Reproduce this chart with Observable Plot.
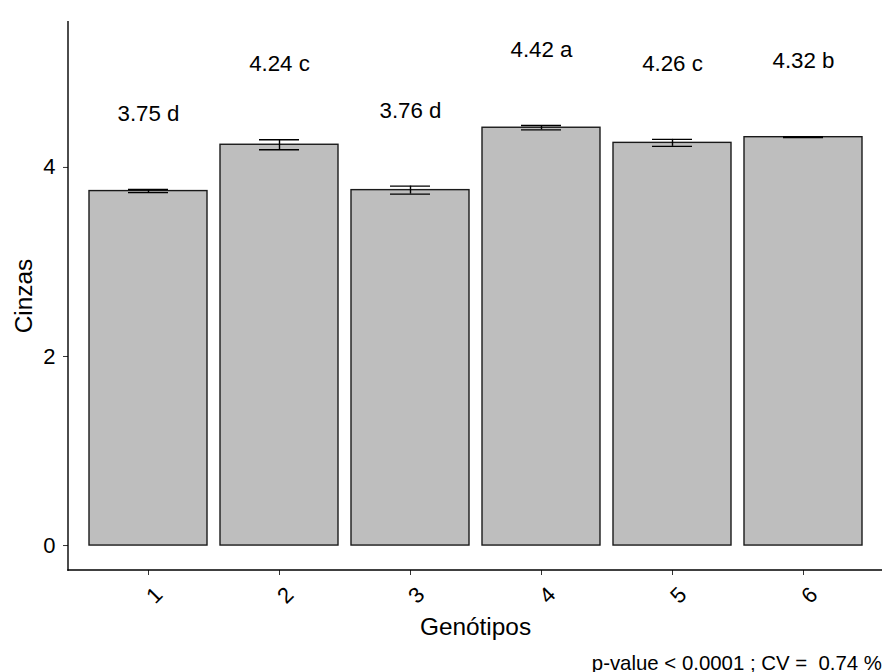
<!DOCTYPE html>
<html>
<head>
<meta charset="utf-8">
<script src="https://cdn.jsdelivr.net/npm/d3@7"></script>
<script src="https://cdn.jsdelivr.net/npm/@observablehq/plot@0.6"></script>
<style>
  html, body { margin: 0; padding: 0; background: #fff; overflow: hidden; }
  #chart { width: 882px; height: 648px; }
  #caption { width: 882px; height: 24px; font: 20.4px "Liberation Sans", Arial, sans-serif; color: #000; text-align: right; line-height: 24px; box-sizing: border-box; padding-top: 2.5px; padding-right: 0; white-space: nowrap; overflow: hidden; }
</style>
</head>
<body>
<div id="chart"></div>
<div id="caption">p-value &lt; 0.0001 ; CV =&nbsp; 0.74 %</div>
<script>
const genotipos = ["1", "2", "3", "4", "5", "6"];
const medias = [3.75, 4.24, 3.76, 4.42, 4.26, 4.32];
const desvios = [0.016, 0.053, 0.042, 0.023, 0.037, 0.005];
const letras = ["d", "c", "d", "a", "c", "b"];
const yTicks = [0, 2, 4];

const data = genotipos.map((g, i) => ({
  g, m: medias[i], sd: desvios[i],
  label: medias[i].toFixed(2) + " " + letras[i]
}));

const labelOffset = 0.8;
const font = '"Liberation Sans", Arial, sans-serif';

const axisLines = (index, scales, values, dims) => {
  const g = d3.create("svg:g").attr("stroke", "#000").attr("stroke-width", 1.4).attr("fill", "none");
  const x0 = dims.marginLeft, y1 = dims.height - dims.marginBottom;
  g.append("line").attr("x1", x0).attr("x2", x0).attr("y1", dims.marginTop).attr("y2", y1 + 0.7);
  g.append("line").attr("x1", x0 - 0.7).attr("x2", dims.width - dims.marginRight).attr("y1", y1).attr("y2", y1);
  return g.node();
};

const plot = Plot.plot({
  width: 882,
  height: 648,
  marginTop: 21,
  marginLeft: 68,
  marginRight: 0,
  marginBottom: 78,
  style: { fontFamily: font, background: "#fff" },
  x: { domain: genotipos, paddingInner: 0.1, paddingOuter: 0.14, label: null },
  y: { domain: [-0.264, 5.544], label: null },
  marks: [
    Plot.barY(data, { x: "g", y: "m", fill: "#BEBEBE", stroke: "#1a1a1a", strokeWidth: 1.4 }),
    Plot.ruleX(data, { x: "g", y1: d => d.m - d.sd, y2: d => d.m + d.sd, stroke: "#000", strokeWidth: 1.4 }),
    Plot.tickY(data, { x: "g", y: d => d.m - d.sd, stroke: "#000", strokeWidth: 1.4, inset: 39 }),
    Plot.tickY(data, { x: "g", y: d => d.m + d.sd, stroke: "#000", strokeWidth: 1.4, inset: 39 }),
    Plot.text(data, { x: "g", y: d => d.m + d.sd + labelOffset, text: "label", fontSize: 22.3, fill: "#000" }),
    Plot.axisY({ ticks: yTicks, tickSize: 5, tickPadding: 8, fontSize: 22, color: "#000", stroke: "#333", label: null, tickFormat: d => String(d) }),
    Plot.axisX({ tickSize: 5, stroke: "#333", label: null, tickFormat: () => "" }),
    Plot.text(genotipos, { x: d => d, frameAnchor: "bottom", dy: 25, dx: 6, rotate: -45, textAnchor: "middle", lineAnchor: "middle", fontSize: 22, fill: "#000" }),
    Plot.text(["Cinzas"], { frameAnchor: "left", dx: -44, rotate: -90, textAnchor: "middle", lineAnchor: "middle", fontSize: 24.4, fill: "#000" }),
    Plot.text(["Genótipos"], { frameAnchor: "bottom", dy: 56.7, textAnchor: "middle", lineAnchor: "middle", fontSize: 24.4, fill: "#000" }),
    axisLines
  ]
});
document.getElementById("chart").appendChild(plot);
</script>
</body>
</html>
